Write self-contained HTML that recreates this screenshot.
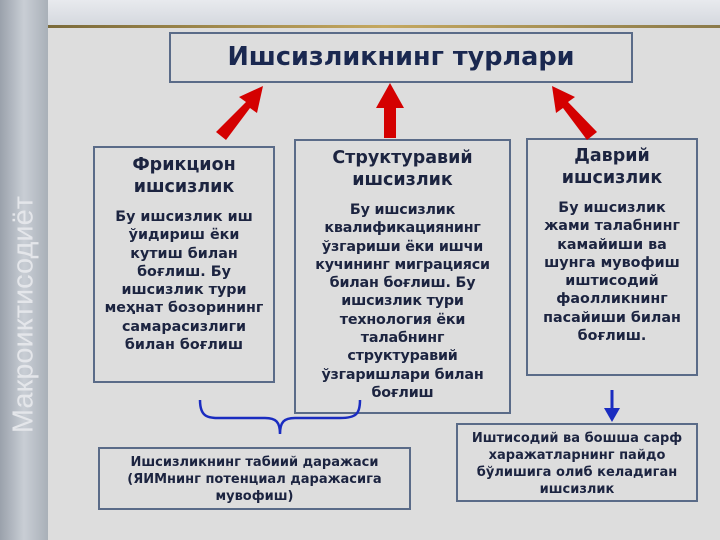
<!DOCTYPE html>
<html><head><meta charset="utf-8"><style>
body{margin:0;width:720px;height:540px;overflow:hidden;background:#dddddd;font-family:"DejaVu Sans","Liberation Sans",sans-serif;position:relative}
.strip{position:absolute;left:0;top:0;width:48px;height:540px;background:linear-gradient(90deg,#9aa1ab,#c9ced5 50%,#a9b0b8)}
.top{position:absolute;left:48px;top:0;width:672px;height:26px;background:linear-gradient(#e8eaee,#d4d8de)}
.gold{position:absolute;left:48px;top:25px;width:672px;height:3px;background:linear-gradient(90deg,#7a6a3a,#c4a860,#8a7a4a)}
.vt{position:absolute;left:-116px;top:298px;width:280px;transform:rotate(-90deg);color:#e4e6ea;font-size:29px;font-family:"Liberation Sans",sans-serif;white-space:nowrap;text-align:center}
.b{position:absolute;border:2px solid #5a6b88;box-sizing:border-box;color:#1c2440;font-weight:bold;text-align:center}
.h{font-size:17.5px;line-height:22px}
.t{font-size:14.3px;line-height:18.3px}
</style></head><body>
<div class="strip"></div><div class="top"></div><div class="gold"></div>
<div class="vt">Макроиктисодиёт</div>
<div class="b" style="left:169px;top:32px;width:464px;height:51px;font-size:25.5px;line-height:46px;color:#1a2850">Ишсизликнинг турлари</div>
<div class="b" style="left:93px;top:146px;width:182px;height:237px;padding-top:6px">
<div class="h">Фрикцион<br>ишсизлик</div><div class="t" style="margin-top:10px">Бу ишсизлик иш<br>ўидириш ёки<br>кутиш билан<br>боғлиш. Бу<br>ишсизлик тури<br>меҳнат бозорининг<br>самарасизлиги<br>билан боғлиш</div></div>
<div class="b" style="left:294px;top:139px;width:217px;height:275px;padding-top:6px">
<div class="h">Структуравий<br>ишсизлик</div><div class="t" style="margin-top:10px;letter-spacing:-0.2px">Бу ишсизлик<br>квалификациянинг<br>ўзгариши ёки ишчи<br>кучининг миграцияси<br>билан боғлиш. Бу<br>ишсизлик тури<br>технология ёки<br>талабнинг<br>структуравий<br>ўзгаришлари билан<br>боғлиш</div></div>
<div class="b" style="left:526px;top:138px;width:172px;height:238px;padding-top:5px">
<div class="h">Даврий<br>ишсизлик</div><div class="t" style="margin-top:10px">Бу ишсизлик<br>жами талабнинг<br>камайиши ва<br>шунга мувофиш<br>иштисодий<br>фаолликнинг<br>пасайиши билан<br>боғлиш.</div></div>
<div class="b" style="left:98px;top:447px;width:313px;height:63px;padding-top:5px"><div class="t" style="font-size:13px;line-height:17px">Ишсизликнинг табиий даражаси<br>(ЯИМнинг потенциал даражасига<br>мувофиш)</div></div>
<div class="b" style="left:456px;top:423px;width:242px;height:79px;padding-top:5px"><div class="t" style="font-size:13px;line-height:17px">Иштисодий ва бошша сарф<br>харажатларнинг пайдо<br>бўлишига олиб келадиган<br>ишсизлик</div></div>
<svg width="720" height="540" style="position:absolute;left:0;top:0">
<g fill="#d40000">
<polygon points="216,132 226,140 250,108 257,113 263,86 239,97 246,102"/>
<polygon points="384,138 396,138 396,108 404,108 390,83 376,108 384,108"/>
<polygon points="597,132 587,140 563,108 556,113 552,86 575,97 568,102"/>
</g>
<path d="M612,390 V410" stroke="#1a2cc0" stroke-width="3"/><polygon points="604,408 620,408 612,422" fill="#1a2cc0"/>
<path d="M200,400 C200,420 210,418 230,418 L265,418 C276,418 280,422 280,434 C280,422 284,418 295,418 L340,418 C356,418 360,414 360,400" fill="none" stroke="#1a2cc0" stroke-width="2.5"/>
</svg>
</body></html>
